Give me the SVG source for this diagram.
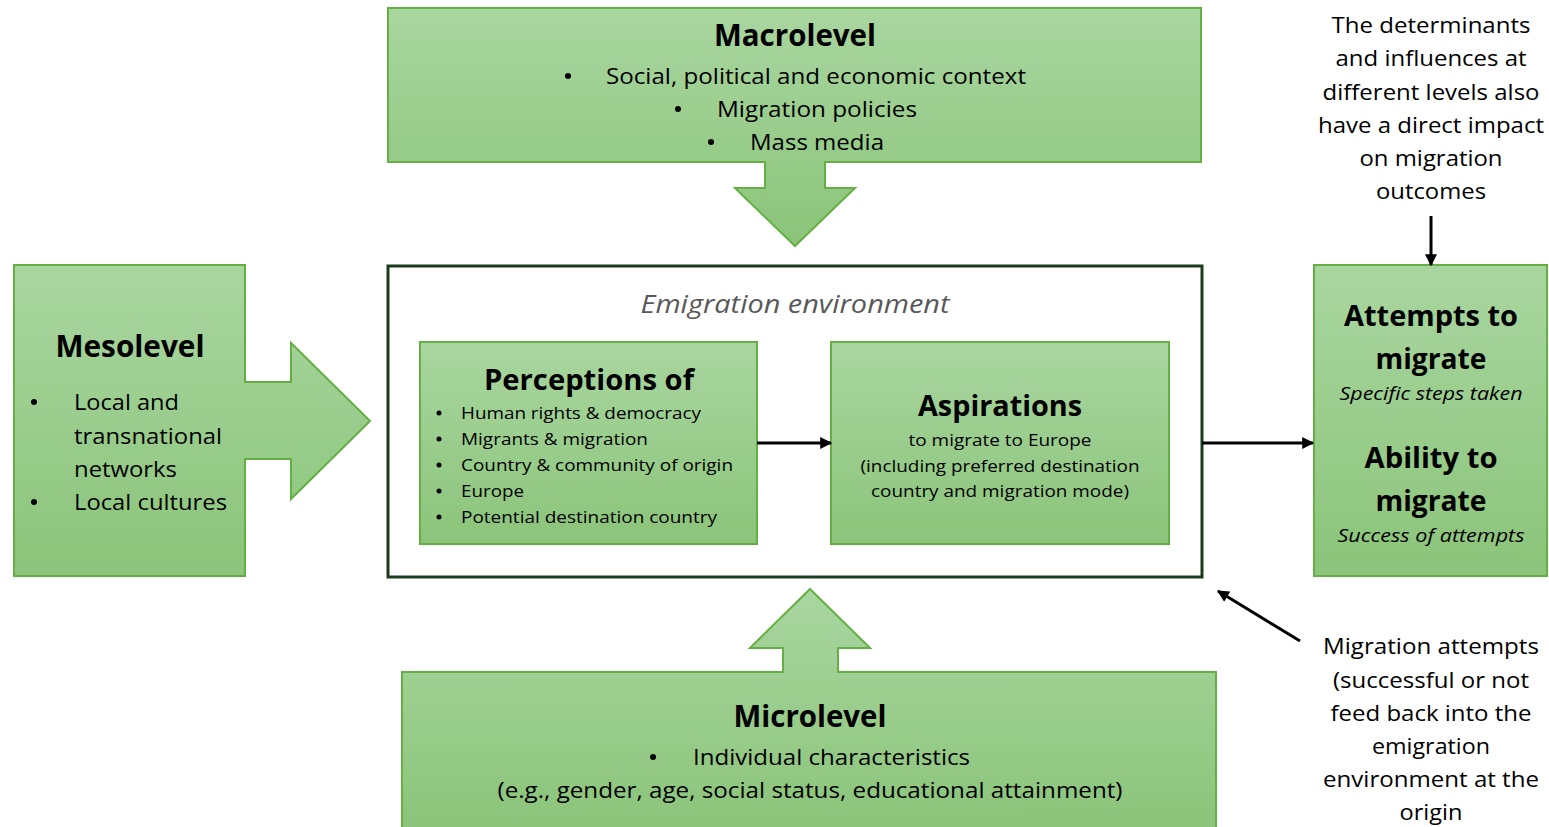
<svg xmlns="http://www.w3.org/2000/svg" width="1549" height="827" viewBox="0 0 1549 827">
<defs>
<linearGradient id="g" x1="0" y1="0" x2="0" y2="1">
<stop offset="0" stop-color="#a9d6a0"/>
<stop offset="1" stop-color="#8bc47a"/>
</linearGradient>
<marker id="ah2" viewBox="0 0 10 10" refX="9" refY="5" markerWidth="14" markerHeight="12" orient="auto" markerUnits="userSpaceOnUse">
<path d="M0,0 L10,5 L0,10 z" fill="#000"/>
</marker>
</defs>
<style>
.box{fill:url(#g);stroke:#64b044;stroke-width:2}
text{font-family:"Open Sans","Noto Sans","Liberation Sans",sans-serif;fill:#000}
.t{font-weight:bold;text-anchor:middle}
.c{text-anchor:middle}
.it{font-style:italic}
.con{stroke:#000;stroke-width:3;fill:none}
.b{fill:#000}
</style>
<rect width="1549" height="827" fill="#fff"/>

<g id="macrolevel">
<path class="box" d="M388,8 H1201 V162 H825 V188 H855 L795,246 L735,188 H765 V162 H388 Z"/>
<text class="t" x="795" y="46" font-size="31" textLength="162" lengthAdjust="spacingAndGlyphs">Macrolevel</text>
<circle class="b" cx="568" cy="76" r="3"/>
<text x="606" y="84" font-size="22" textLength="420" lengthAdjust="spacingAndGlyphs">Social, political and economic context</text>
<circle class="b" cx="678" cy="109" r="3"/>
<text x="717" y="117" font-size="22" textLength="200" lengthAdjust="spacingAndGlyphs">Migration policies</text>
<circle class="b" cx="711" cy="142" r="3"/>
<text x="750" y="150" font-size="22" textLength="134" lengthAdjust="spacingAndGlyphs">Mass media</text>
</g>

<g id="mesolevel">
<path class="box" d="M14,265 H245 V382 H291 V343 L370,421 L291,499 V459 H245 V576 H14 Z"/>
<text class="t" x="130" y="357" font-size="31" textLength="149" lengthAdjust="spacingAndGlyphs">Mesolevel</text>
<circle class="b" cx="34" cy="402" r="3"/>
<text x="74" y="410" font-size="22" textLength="105" lengthAdjust="spacingAndGlyphs">Local and</text>
<text x="74" y="444" font-size="22" textLength="148" lengthAdjust="spacingAndGlyphs">transnational</text>
<text x="74" y="477" font-size="22" textLength="103" lengthAdjust="spacingAndGlyphs">networks</text>
<circle class="b" cx="34" cy="502" r="3"/>
<text x="74" y="510" font-size="22" textLength="153" lengthAdjust="spacingAndGlyphs">Local cultures</text>
</g>

<g id="emigration-environment">
<rect x="388" y="266" width="814" height="311" fill="#fff" stroke="#1c3a1c" stroke-width="3"/>
<text class="c it" x="795" y="313" font-size="25" style="fill:#595959" textLength="309" lengthAdjust="spacingAndGlyphs">Emigration environment</text>
</g>

<g id="perceptions">
<rect class="box" x="420" y="342" width="337" height="202"/>
<text class="t" x="589" y="390" font-size="28" textLength="210" lengthAdjust="spacingAndGlyphs">Perceptions of</text>
<g font-size="17">
<circle class="b" cx="439" cy="413" r="2.5"/>
<text x="461" y="419" textLength="240" lengthAdjust="spacingAndGlyphs">Human rights &amp; democracy</text>
<circle class="b" cx="439" cy="439" r="2.5"/>
<text x="461" y="445" textLength="187" lengthAdjust="spacingAndGlyphs">Migrants &amp; migration</text>
<circle class="b" cx="439" cy="465" r="2.5"/>
<text x="461" y="471" textLength="272" lengthAdjust="spacingAndGlyphs">Country &amp; community of origin</text>
<circle class="b" cx="439" cy="491" r="2.5"/>
<text x="461" y="497" textLength="63" lengthAdjust="spacingAndGlyphs">Europe</text>
<circle class="b" cx="439" cy="517" r="2.5"/>
<text x="461" y="523" textLength="256" lengthAdjust="spacingAndGlyphs">Potential destination country</text>
</g>
</g>

<g id="aspirations">
<rect class="box" x="831" y="342" width="338" height="202"/>
<text class="t" x="1000" y="416" font-size="28" textLength="164" lengthAdjust="spacingAndGlyphs">Aspirations</text>
<g font-size="17" class="c">
<text x="1000" y="446" textLength="183" lengthAdjust="spacingAndGlyphs">to migrate to Europe</text>
<text x="1000" y="472" textLength="279" lengthAdjust="spacingAndGlyphs">(including preferred destination</text>
<text x="1000" y="497" textLength="258" lengthAdjust="spacingAndGlyphs">country and migration mode)</text>
</g>
</g>

<g id="outcomes">
<rect class="box" x="1314" y="265" width="233" height="311"/>
<text class="t" x="1431" y="326" font-size="28" textLength="174" lengthAdjust="spacingAndGlyphs">Attempts to</text>
<text class="t" x="1431" y="369" font-size="28" textLength="111" lengthAdjust="spacingAndGlyphs">migrate</text>
<text class="c it" x="1431" y="400" font-size="18" textLength="183" lengthAdjust="spacingAndGlyphs">Specific steps taken</text>
<text class="t" x="1431" y="468" font-size="28" textLength="133" lengthAdjust="spacingAndGlyphs">Ability to</text>
<text class="t" x="1431" y="511" font-size="28" textLength="111" lengthAdjust="spacingAndGlyphs">migrate</text>
<text class="c it" x="1431" y="542" font-size="18" textLength="187" lengthAdjust="spacingAndGlyphs">Success of attempts</text>
</g>

<g id="microlevel">
<path class="box" d="M402,672 H783 V648 H750 L810,589 L870,648 H838 V672 H1216 V828 H402 Z"/>
<text class="t" x="810" y="727" font-size="31" textLength="153" lengthAdjust="spacingAndGlyphs">Microlevel</text>
<circle class="b" cx="653" cy="757" r="3"/>
<text x="693" y="765" font-size="22" textLength="277" lengthAdjust="spacingAndGlyphs">Individual characteristics</text>
<text class="c" x="810" y="798" font-size="22" textLength="625" lengthAdjust="spacingAndGlyphs">(e.g., gender, age, social status, educational attainment)</text>
</g>

<g id="note-determinants" class="c" font-size="22">
<text x="1431" y="33" textLength="199" lengthAdjust="spacingAndGlyphs">The determinants</text>
<text x="1431" y="66" textLength="191" lengthAdjust="spacingAndGlyphs">and influences at</text>
<text x="1431" y="100" textLength="217" lengthAdjust="spacingAndGlyphs">different levels also</text>
<text x="1431" y="133" textLength="226" lengthAdjust="spacingAndGlyphs">have a direct impact</text>
<text x="1431" y="166" textLength="143" lengthAdjust="spacingAndGlyphs">on migration</text>
<text x="1431" y="199" textLength="110" lengthAdjust="spacingAndGlyphs">outcomes</text>
</g>

<g id="note-feedback" class="c" font-size="22">
<text x="1431" y="654" textLength="216" lengthAdjust="spacingAndGlyphs">Migration attempts</text>
<text x="1431" y="688" textLength="196" lengthAdjust="spacingAndGlyphs">(successful or not</text>
<text x="1431" y="721" textLength="201" lengthAdjust="spacingAndGlyphs">feed back into the</text>
<text x="1431" y="754" textLength="118" lengthAdjust="spacingAndGlyphs">emigration</text>
<text x="1431" y="787" textLength="216" lengthAdjust="spacingAndGlyphs">environment at the</text>
<text x="1431" y="820" textLength="63" lengthAdjust="spacingAndGlyphs">origin</text>
</g>

<g id="connectors">
<line class="con" x1="757" y1="443" x2="831" y2="443" marker-end="url(#ah2)"/>
<line class="con" x1="1202" y1="443" x2="1313" y2="443" marker-end="url(#ah2)"/>
<line class="con" x1="1431" y1="216" x2="1431" y2="265" marker-end="url(#ah2)"/>
<line class="con" x1="1300" y1="641" x2="1218" y2="591" marker-end="url(#ah2)"/>
</g>
</svg>
